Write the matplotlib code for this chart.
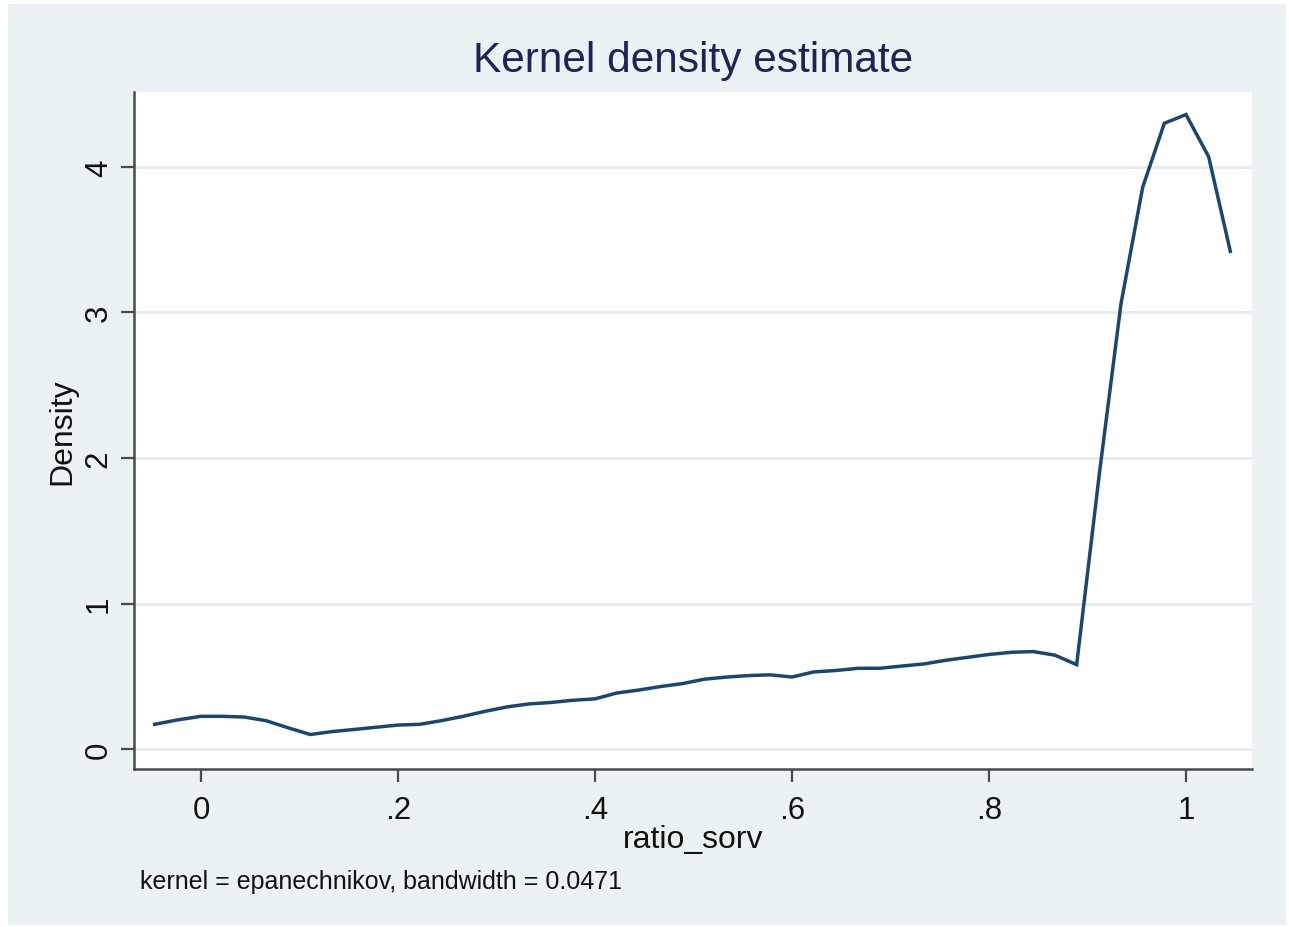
import matplotlib
matplotlib.use("Agg")
import matplotlib.pyplot as plt
from matplotlib.patches import Rectangle

plt.rcParams['font.family'] = ['Liberation Sans', 'DejaVu Sans']

x_vals = [-0.047, -0.024, 0.000, 0.021, 0.044, 0.066, 0.089, 0.111, 0.133, 0.156,
          0.178, 0.200, 0.222, 0.244, 0.266, 0.289, 0.311, 0.333, 0.355, 0.377,
          0.400, 0.422, 0.444, 0.467, 0.489, 0.511, 0.534, 0.556, 0.578, 0.600,
          0.622, 0.645, 0.667, 0.689, 0.711, 0.734, 0.756, 0.778, 0.800, 0.823,
          0.845, 0.867, 0.889, 0.912, 0.934, 0.956, 0.978, 1.000, 1.023, 1.045]
density = [0.17, 0.20, 0.225, 0.225, 0.22, 0.195, 0.145, 0.10, 0.12, 0.135,
           0.15, 0.165, 0.17, 0.195, 0.225, 0.26, 0.29, 0.31, 0.32, 0.335,
           0.345, 0.385, 0.405, 0.43, 0.45, 0.48, 0.495, 0.505, 0.51, 0.495,
           0.53, 0.54, 0.555, 0.555, 0.57, 0.585, 0.61, 0.63, 0.65, 0.665,
           0.67, 0.645, 0.58, 1.89, 3.06, 3.86, 4.30, 4.36, 4.07, 3.42]

x_ticks = [0, 0.2, 0.4, 0.6, 0.8, 1.0]
x_ticklabels = ["0", ".2", ".4", ".6", ".8", "1"]
y_ticks = [0, 1, 2, 3, 4]
y_ticklabels = ["0", "1", "2", "3", "4"]

W, H = 1289, 928
fig = plt.figure(figsize=(W / 100, H / 100), dpi=100, facecolor="white")
bg = "#EAF2F3"
fig.patches.append(Rectangle((8 / W, 1 - 926 / H), (1286 - 8) / W, (926 - 5) / H,
                             transform=fig.transFigure, facecolor=bg,
                             edgecolor="none", zorder=-10))

left, right, top, bottom = 134, 1252, 93, 770
ax = fig.add_axes([left / W, 1 - bottom / H, (right - left) / W, (bottom - top) / H])
ax.set_facecolor("white")

ax.plot(x_vals, density, color="#1a476f", lw=2.5, solid_joinstyle="miter")

ax.set_xlim(-0.068, 1.067)
ax.set_ylim(-0.137, 4.515)

ax.set_xticks(x_ticks)
ax.set_xticklabels(x_ticklabels)
ax.set_yticks(y_ticks)
ax.set_yticklabels(y_ticklabels, rotation=90, va="center")

ax.grid(axis="y", color="#E3ECEE", lw=2)
ax.set_axisbelow(True)

for s in ["top", "right"]:
    ax.spines[s].set_visible(False)
for s in ["left", "bottom"]:
    ax.spines[s].set_color("#4a4a4a")
    ax.spines[s].set_linewidth(1.8)

ax.tick_params(axis="both", direction="out", length=9.5, width=1.6, color="#4a4a4a",
               labelsize=22.5, labelcolor="#111111")
ax.tick_params(axis="x", pad=9)
ax.tick_params(axis="y", pad=5)

ax.set_xlabel("ratio_sorv", fontsize=23, color="#111111")
ax.xaxis.set_label_coords(693 / W, 1 - 848 / H, transform=fig.transFigure)
ax.xaxis.label.set_va("baseline")

ax.set_ylabel("Density", fontsize=23, color="#111111")
ax.yaxis.set_label_coords(62 / W, 1 - 432 / H, transform=fig.transFigure)
ax.yaxis.label.set_va("center")
ax.yaxis.label.set_ha("center")

fig.text(693 / W, 1 - 72 / H, "Kernel density estimate", fontsize=30.5,
         color="#1e2456", ha="center", va="baseline")

fig.text(140 / W, 1 - 889 / H, "kernel = epanechnikov, bandwidth = 0.0471",
         fontsize=18, color="#111111", ha="left", va="baseline")

fig.savefig("out.png", dpi=100, facecolor="white")
